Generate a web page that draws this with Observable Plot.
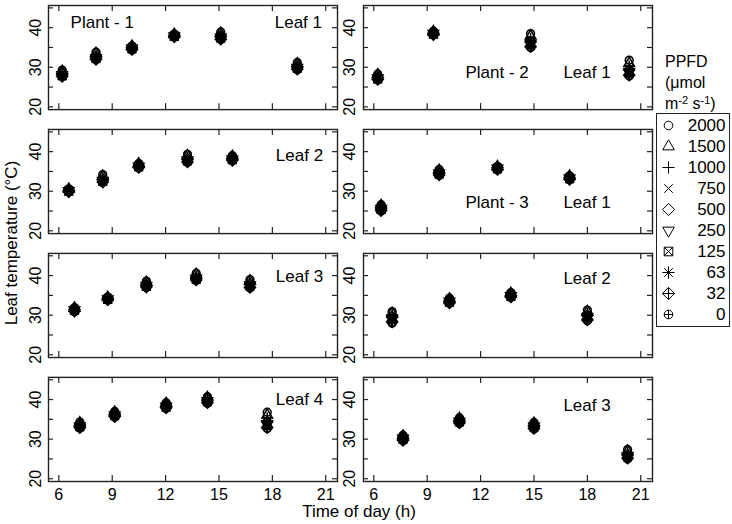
<!DOCTYPE html>
<html><head><meta charset="utf-8">
<script src="https://cdn.jsdelivr.net/npm/d3@7"></script>
<script src="https://cdn.jsdelivr.net/npm/@observablehq/plot@0.6"></script>
<style>
body{margin:0;background:#fff;}
#wrap{position:relative;width:732px;height:524px;font-family:"Liberation Sans",Arial,sans-serif;color:#000;overflow:hidden;}
#wrap > svg{position:absolute;left:0;top:0;}
.ttl{position:absolute;white-space:nowrap;text-align:center;}
#ytitle{left:-138px;top:233px;width:300px;line-height:20px;font-size:17px;transform:rotate(-90deg);}
#xtitle{left:209px;top:503px;width:300px;line-height:17px;font-size:17px;}
#ltitle{left:665px;top:51px;font-size:16px;line-height:21px;text-align:left;}
#ltitle sup{font-size:11px;line-height:0;vertical-align:5px;}
#legend{position:absolute;left:656px;top:113px;width:74px;height:214px;box-sizing:border-box;border:1.5px solid #222;}
#legend svg{display:block;}
</style></head>
<body><div id="wrap">
<div class="ttl" id="ytitle">Leaf temperature (°C)</div>
<div class="ttl" id="xtitle">Time of day (h)</div>
<div class="ttl" id="ltitle">PPFD<br>(μmol<br>m<sup>-2</sup> s<sup>-1</sup>)</div>
<div id="legend"></div>
</div>
<script>
// ---- data ----
const ppfdLevels = [2000, 1500, 1000, 750, 500, 250, 125, 63, 32, 0];
const xTicks = [6, 9, 12, 15, 18, 21];
const yTicks = [20, 25, 30, 35, 40, 45];
const yLabelTicks = [20, 30, 40];

// Plant 1, Leaf 1
const p1Leaf1Times = [6.19, 8.09, 10.11, 12.49, 15.1, 19.4];
const p1Leaf1Temps = [
  [29.3, 29.0, 28.7, 28.5, 28.4, 28.1, 27.9, 27.8, 27.7, 27.6],
  [33.8, 33.5, 33.1, 32.8, 32.6, 32.4, 32.3, 32.1, 32.0, 32.0],
  [35.4, 35.3, 35.1, 35.0, 34.9, 34.8, 34.7, 34.6, 34.5, 34.4],
  [38.4, 38.3, 38.2, 38.1, 38.0, 37.9, 37.8, 37.7, 37.7, 37.6],
  [38.9, 38.6, 38.3, 38.0, 37.8, 37.6, 37.4, 37.3, 37.1, 37.0],
  [31.2, 30.9, 30.6, 30.3, 30.1, 29.9, 29.8, 29.6, 29.5, 29.4]
];
// Plant 2, Leaf 1
const p2Leaf1Times = [6.22, 9.35, 14.81, 20.35];
const p2Leaf1Temps = [
  [28.3, 28.1, 27.8, 27.6, 27.4, 27.3, 27.1, 27.0, 26.9, 26.8],
  [39.1, 39.0, 38.9, 38.7, 38.6, 38.5, 38.4, 38.3, 38.2, 38.2],
  [38.5, 37.9, 37.3, 36.8, 36.4, 36.0, 35.7, 35.4, 35.2, 35.0],
  [31.8, 31.0, 30.3, 29.7, 29.3, 28.9, 28.5, 28.2, 28.0, 27.8]
];
// Plant 1, Leaf 2
const p1Leaf2Times = [6.56, 8.47, 10.49, 13.23, 15.75];
const p1Leaf2Temps = [
  [30.6, 30.5, 30.4, 30.3, 30.2, 30.1, 30.0, 29.9, 29.9, 29.8],
  [34.2, 33.8, 33.4, 33.1, 32.9, 32.7, 32.5, 32.4, 32.3, 32.2],
  [37.0, 36.9, 36.7, 36.6, 36.4, 36.3, 36.2, 36.1, 36.0, 35.9],
  [39.3, 39.0, 38.6, 38.3, 38.1, 37.9, 37.7, 37.6, 37.4, 37.3],
  [39.0, 38.8, 38.6, 38.4, 38.3, 38.1, 38.0, 37.9, 37.8, 37.7]
];
// Plant 3, Leaf 1
const p3Leaf1Times = [6.41, 9.67, 12.95, 17.0];
const p3Leaf1Temps = [
  [26.6, 26.4, 26.2, 26.0, 25.8, 25.6, 25.4, 25.3, 25.1, 25.0],
  [35.5, 35.3, 35.1, 34.9, 34.7, 34.6, 34.4, 34.3, 34.1, 34.0],
  [36.3, 36.2, 36.1, 36.0, 35.9, 35.8, 35.7, 35.6, 35.5, 35.4],
  [33.9, 33.8, 33.7, 33.6, 33.4, 33.3, 33.2, 33.1, 33.0, 32.9]
];
// Plant 1, Leaf 3
const p1Leaf3Times = [6.88, 8.75, 10.92, 13.72, 16.74];
const p1Leaf3Temps = [
  [31.9, 31.8, 31.6, 31.5, 31.4, 31.3, 31.2, 31.1, 31.0, 30.9],
  [34.6, 34.5, 34.4, 34.3, 34.2, 34.1, 34.0, 33.9, 33.9, 33.8],
  [38.6, 38.3, 38.0, 37.8, 37.6, 37.5, 37.3, 37.2, 37.1, 37.0],
  [40.6, 40.3, 39.9, 39.6, 39.4, 39.3, 39.1, 39.0, 38.9, 38.8],
  [39.0, 38.7, 38.3, 38.0, 37.8, 37.6, 37.4, 37.2, 37.0, 36.9]
];
// Plant 3, Leaf 2
const p3Leaf2Times = [7.03, 10.25, 13.7, 18.0];
const p3Leaf2Temps = [
  [30.9, 30.5, 30.1, 29.8, 29.5, 29.2, 28.9, 28.6, 28.3, 28.0],
  [34.3, 34.1, 33.9, 33.7, 33.6, 33.5, 33.3, 33.2, 33.1, 33.0],
  [35.7, 35.5, 35.3, 35.2, 35.0, 34.9, 34.8, 34.7, 34.6, 34.5],
  [31.3, 30.9, 30.5, 30.2, 29.9, 29.6, 29.3, 29.1, 28.8, 28.6]
];
// Plant 1, Leaf 4
const p1Leaf4Times = [7.18, 9.14, 12.03, 14.35, 17.71];
const p1Leaf4Temps = [
  [34.3, 34.1, 33.8, 33.6, 33.5, 33.3, 33.2, 33.0, 32.9, 32.8],
  [37.0, 36.8, 36.6, 36.4, 36.3, 36.1, 36.0, 35.8, 35.7, 35.6],
  [39.2, 39.0, 38.8, 38.6, 38.4, 38.3, 38.1, 38.0, 37.9, 37.8],
  [40.7, 40.5, 40.3, 40.1, 39.9, 39.7, 39.5, 39.4, 39.2, 39.1],
  [36.8, 36.1, 35.4, 34.8, 34.3, 33.9, 33.5, 33.2, 32.9, 32.7]
];
// Plant 3, Leaf 3
const p3Leaf3Times = [7.64, 10.81, 15.0, 20.26];
const p3Leaf3Temps = [
  [31.0, 30.8, 30.6, 30.5, 30.3, 30.2, 30.0, 29.9, 29.7, 29.6],
  [35.4, 35.2, 35.0, 34.8, 34.7, 34.5, 34.4, 34.2, 34.1, 34.0],
  [34.2, 34.0, 33.8, 33.6, 33.4, 33.3, 33.1, 32.9, 32.7, 32.6],
  [27.4, 27.0, 26.6, 26.3, 26.0, 25.8, 25.6, 25.4, 25.2, 25.0]
];

const panels = [
  {col: 0, row: 0, times: p1Leaf1Times, temps: p1Leaf1Temps},
  {col: 1, row: 0, times: p2Leaf1Times, temps: p2Leaf1Temps},
  {col: 0, row: 1, times: p1Leaf2Times, temps: p1Leaf2Temps},
  {col: 1, row: 1, times: p3Leaf1Times, temps: p3Leaf1Temps},
  {col: 0, row: 2, times: p1Leaf3Times, temps: p1Leaf3Temps},
  {col: 1, row: 2, times: p3Leaf2Times, temps: p3Leaf2Temps},
  {col: 0, row: 3, times: p1Leaf4Times, temps: p1Leaf4Temps},
  {col: 1, row: 3, times: p3Leaf3Times, temps: p3Leaf3Temps}
];

const panelLabels = [
  {col: 0, row: 0, time: 6.66, temp: 39.8, text: "Plant - 1", anchor: "start"},
  {col: 0, row: 0, time: 20.79, temp: 39.8, text: "Leaf 1", anchor: "end"},
  {col: 1, row: 0, time: 12.93, temp: 27.4, text: "Plant - 2", anchor: "middle"},
  {col: 1, row: 0, time: 17.98, temp: 27.4, text: "Leaf 1", anchor: "middle"},
  {col: 0, row: 1, time: 20.85, temp: 37.75, text: "Leaf 2", anchor: "end"},
  {col: 1, row: 1, time: 12.93, temp: 25.85, text: "Plant - 3", anchor: "middle"},
  {col: 1, row: 1, time: 17.98, temp: 25.85, text: "Leaf 1", anchor: "middle"},
  {col: 0, row: 2, time: 20.85, temp: 38.3, text: "Leaf 3", anchor: "end"},
  {col: 1, row: 2, time: 17.98, temp: 38.0, text: "Leaf 2", anchor: "middle"},
  {col: 0, row: 3, time: 20.85, temp: 38.5, text: "Leaf 4", anchor: "end"},
  {col: 1, row: 3, time: 17.98, temp: 37.2, text: "Leaf 3", anchor: "middle"}
];

// ---- table ----
const points = [];
for (const p of panels) {
  p.times.forEach((t, i) => {
    p.temps[i].forEach((v, j) => {
      points.push({col: p.col, row: p.row, time: t, temp: v, ppfd: ppfdLevels[j]});
    });
  });
}

// ---- R-like pch symbols 1..10 ----
function sym(fn) { return {draw(ctx, size) { fn(ctx, Math.sqrt(size / Math.PI)); }}; }
const S2 = Math.SQRT2;
const plusPath = (c, s) => { c.moveTo(-s, 0); c.lineTo(s, 0); c.moveTo(0, -s); c.lineTo(0, s); };
const timesPath = (c, s) => { c.moveTo(-s, -s); c.lineTo(s, s); c.moveTo(-s, s); c.lineTo(s, -s); };
const circlePath = (c, r) => { c.moveTo(r, 0); c.arc(0, 0, r, 0, 2 * Math.PI); };
const diamondPath = (c, s) => { c.moveTo(0, -s); c.lineTo(s, 0); c.lineTo(0, s); c.lineTo(-s, 0); c.closePath(); };
const triPath = (c, r, up) => {
  const a = 1.555 * r, bx = 1.347 * r, by = 0.778 * r, k = up ? 1 : -1;
  c.moveTo(0, -a * k); c.lineTo(bx, by * k); c.lineTo(-bx, by * k); c.closePath();
};
const symbolShapes = [
  sym((c, r) => circlePath(c, r)),
  sym((c, r) => triPath(c, r, true)),
  sym((c, r) => plusPath(c, S2 * r)),
  sym((c, r) => timesPath(c, r)),
  sym((c, r) => diamondPath(c, S2 * r)),
  sym((c, r) => triPath(c, r, false)),
  sym((c, r) => { c.rect(-r, -r, 2 * r, 2 * r); timesPath(c, r); }),
  sym((c, r) => { timesPath(c, r); plusPath(c, S2 * r); }),
  sym((c, r) => { diamondPath(c, S2 * r); plusPath(c, S2 * r); }),
  sym((c, r) => { circlePath(c, r); plusPath(c, r); })
];

// ---- layout ----
const W = 732, H = 524, ML = 48, MR = 80, MT = 5, MB = 43, PX = 0.0825, PY = 0.16;
const FW = (W - ML - MR) / (2 - PX) * (1 - PX);
const FH = (H - MT - MB) / (4 - PY) * (1 - PY);
const TL = 5;
const font = '"Liberation Sans", Arial, sans-serif';
const ink = "#222";

const chart = Plot.plot({
  width: W, height: H,
  marginLeft: ML, marginRight: MR, marginTop: MT, marginBottom: MB,
  style: {fontFamily: font, fontSize: "16px", color: "#000", background: "transparent", overflow: "visible"},
  x: {domain: [5.42, 21.66]},
  y: {domain: [19.3, 45.6], axis: null},
  fx: {domain: [0, 1], paddingInner: PX, paddingOuter: 0, axis: null, round: false},
  fy: {domain: [0, 1, 2, 3], paddingInner: PY, paddingOuter: 0, axis: null, round: false},
  symbol: {domain: ppfdLevels, range: symbolShapes},
  marks: [
    Plot.frame({stroke: ink, strokeWidth: 1.4}),
    Plot.tickY(yTicks, {y: d => d, insetRight: FW - TL, stroke: ink, strokeWidth: 1.2}),
    Plot.tickY(yTicks, {y: d => d, insetLeft: FW - TL, stroke: ink, strokeWidth: 1.2}),
    Plot.tickX(xTicks, {x: d => d, insetBottom: FH - TL - 1, stroke: ink, strokeWidth: 1.2}),
    Plot.tickX(xTicks, {x: d => d, insetTop: FH - TL - 1, stroke: ink, strokeWidth: 1.2}),
    Plot.text(yLabelTicks, {y: d => d, text: d => String(d), frameAnchor: "left", dx: -8, rotate: -90,
      textAnchor: "middle", lineAnchor: "bottom", fontSize: 16, fill: "#000"}),
    Plot.axisX({ticks: xTicks, tickSize: 0, tickPadding: 7, fontSize: 16, label: null, stroke: "none", fill: "#000"}),
    Plot.dot(points, {x: "time", y: "temp", fx: "col", fy: "row", symbol: "ppfd", r: 3.9,
      stroke: "#000", strokeWidth: 1.5, fill: "none"}),
    ...["start", "middle", "end"].map(a =>
      Plot.text(panelLabels.filter(d => d.anchor === a), {x: "time", y: "temp", fx: "col", fy: "row",
        text: "text", textAnchor: a, lineAnchor: "bottom", fontSize: 17, fill: "#000"}))
  ]
});
document.getElementById("wrap").prepend(chart);

const legend = Plot.plot({
  width: 71, height: 211, margin: 0,
  style: {fontFamily: font, fontSize: "17px", color: "#000", background: "transparent", overflow: "visible"},
  x: {domain: [0, 1], axis: null},
  y: {type: "point", domain: ppfdLevels, range: [8.5, 203], padding: 0, axis: null},
  symbol: {domain: ppfdLevels, range: symbolShapes},
  marks: [
    Plot.dot(ppfdLevels, {y: d => d, symbol: d => d, frameAnchor: "left", dx: 11, r: 4.3,
      stroke: "#000", strokeWidth: 1, fill: "none"}),
    Plot.text(ppfdLevels, {y: d => d, text: d => String(d), frameAnchor: "right", dx: -3,
      textAnchor: "end", fontSize: 17, fill: "#000"})
  ]
});
document.getElementById("legend").appendChild(legend);
</script>
</body></html>
